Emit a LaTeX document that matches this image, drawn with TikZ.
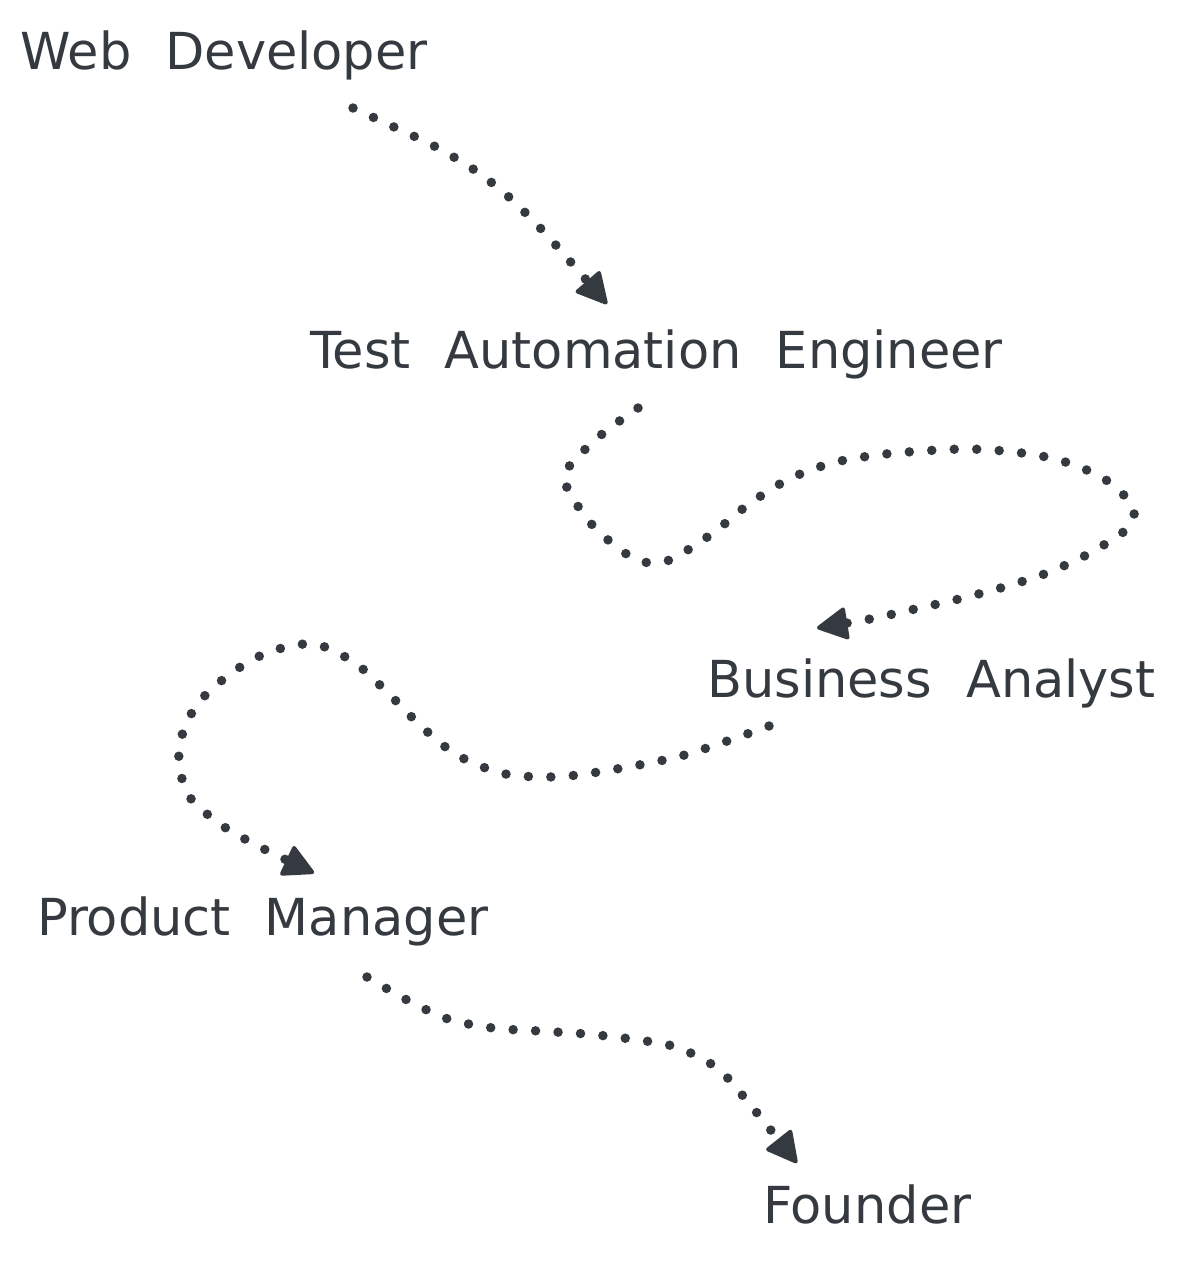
\documentclass[tikz,border=0pt]{standalone}
\usepackage{fontspec}
\usepackage{tikz}
\usetikzlibrary{arrows.meta}
\newfontfamily\handfont{DejaVu Sans}[WordSpace=2.1]
\definecolor{ink}{HTML}{343A40}

\begin{document}
\begin{tikzpicture}[x=1pt, y=-1pt,
  job/.style={anchor=base west, inner sep=0pt, text=ink, font=\handfont\fontsize{51}{60}\selectfont},
  trail/.style={draw=ink, line width=9.5pt, line cap=round, dash pattern=on 0pt off 22.5pt,
    -{Triangle[length=33pt, width=34pt, line width=4pt, round]}}]
  \useasboundingbox (0,0) rectangle (1189,1263);

  \node[job] (W) at (20,70) {Web Developer};
  \node[job] (T) at (310,368) {Test Automation Engineer};
  \node[job] (BA) at (707,697) {Business Analyst};
  \node[job] (PM) at (37,935) {Product Manager};
  \node[job] (F) at (763,1223) {Founder};

  % W -> T
  \draw[trail] plot[smooth] coordinates {([shift={(333,38)}]W.base west)
    (394,127) (436,147) (476,171) (510,198) (544,232) (575,267)
    ([shift={(297,-64)}]T.base west)};

  % T -> BA, the loop
  \draw[trail] plot[smooth] coordinates {([shift={(328,40)}]T.base west)
    (601,435) (568,468) (568,490) (595,528) (631,557) (653,563) (674,558)
    (713,533) (749,504) (789,479) (832,463) (877,455) (922,451) (968,449)
    (1014,452) (1059,460) (1103,478) (1132,505) (1129,527) (1090,553)
    (1047,573) (1004,587) (959,599) (915,609) (870,619)
    ([shift={(110,-69)}]BA.base west)};

  % BA -> PM
  \draw[trail] plot[smooth] coordinates {([shift={(62,29)}]BA.base west)
    (681,756) (592,773) (546,777) (501,773) (457,755) (422,727) (389,694)
    (355,663) (314,644) (269,652) (230,674) (196,706) (179,748) (187,793)
    (220,824) (260,847)
    ([shift={(277,-62)}]PM.base west)};

  % PM -> F
  \draw[trail] plot[smooth] coordinates {([shift={(330,42)}]PM.base west)
    (407,1000) (448,1019) (493,1028) (539,1031) (586,1034) (631,1039)
    (676,1047) (717,1068) (748,1102)
    ([shift={(34,-60)}]F.base west)};
\end{tikzpicture}
\end{document}
